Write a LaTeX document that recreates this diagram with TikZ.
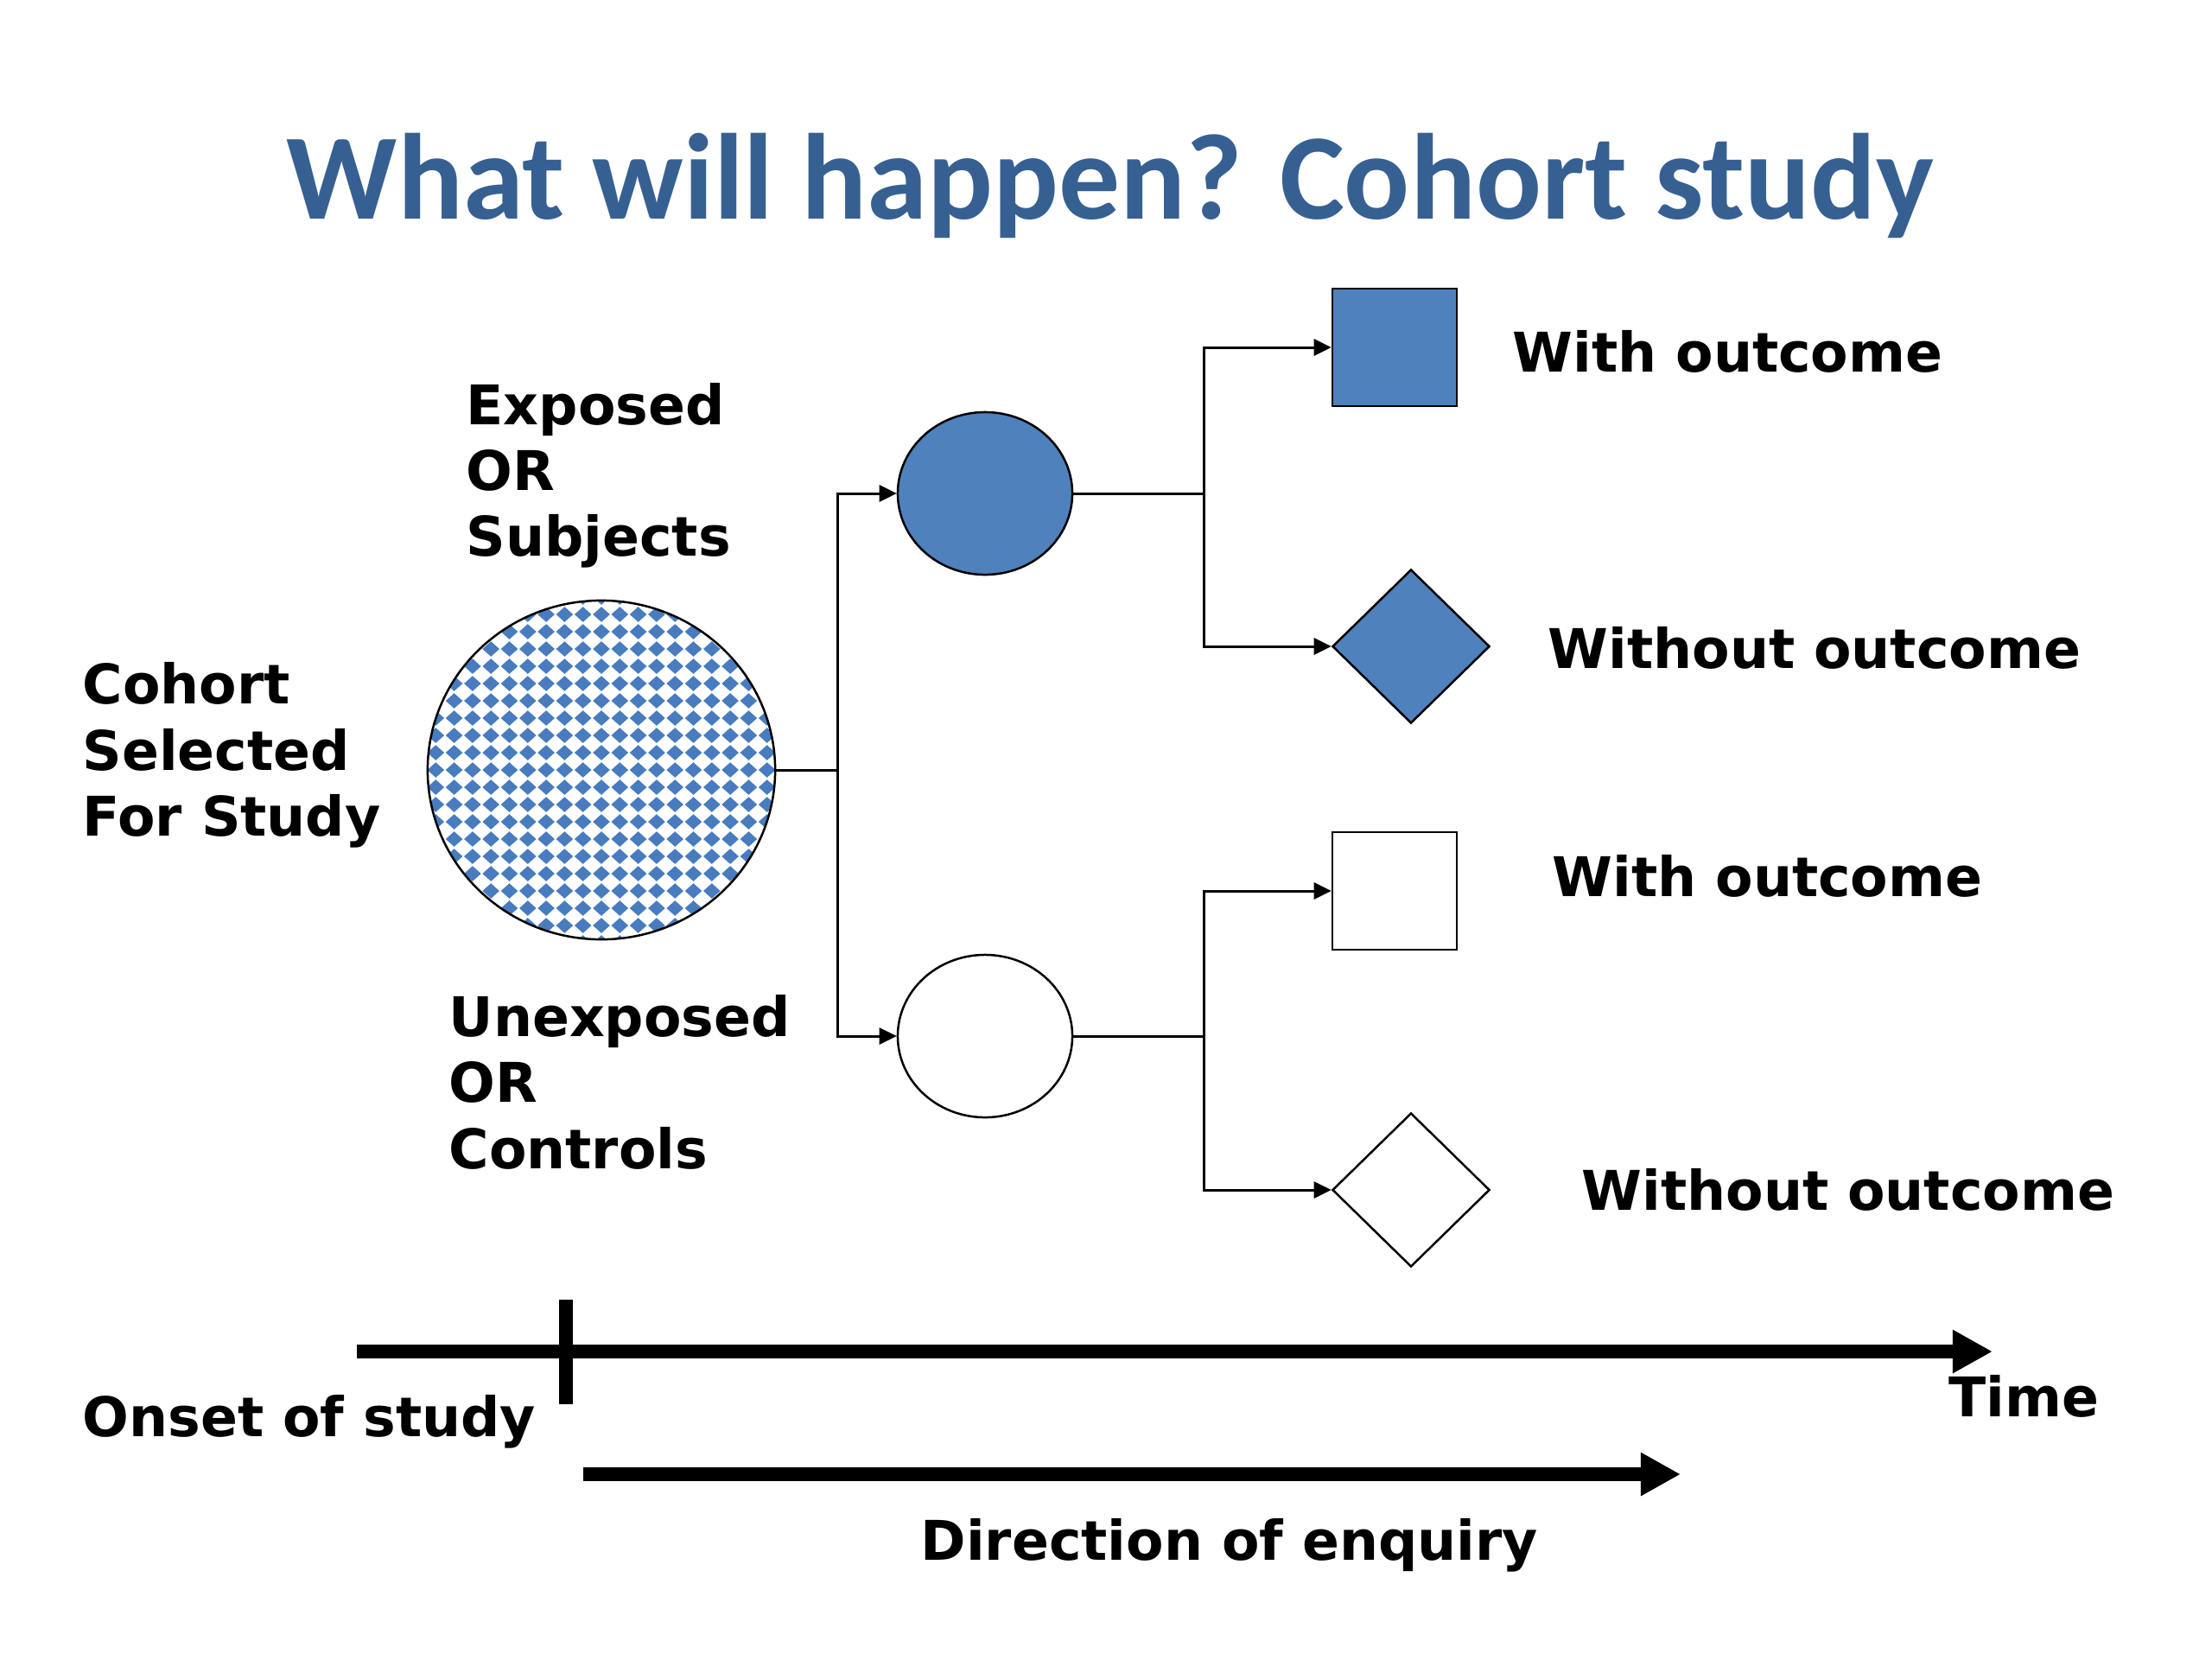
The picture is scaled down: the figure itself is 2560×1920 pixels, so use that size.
\documentclass[tikz,border=0pt]{standalone}
\usepackage{fontspec}
\usetikzlibrary{arrows.meta,shapes.geometric}
\newfontfamily\labfont{DejaVu Sans}
\newfontfamily\titlefont{Carlito}
\definecolor{titleblue}{RGB}{55,96,146}
\definecolor{shapeblue}{RGB}{79,129,189}
\definecolor{patblue}{RGB}{72,124,190}
\begin{document}
\begin{tikzpicture}[x=0.01cm,y=-0.01cm,
  lab/.style={font=\labfont\bfseries\fontsize{18}{22}\selectfont, anchor=base west, inner sep=0pt},
  conn/.style={line width=0.03cm, -{Triangle[length=0.2cm,width=0.19cm]}},
  plainline/.style={line width=0.03cm},
  bigarrow/.style={line width=0.16cm, -{Triangle[length=0.46cm,width=0.47cm]}},
  shp/.style={draw=black, line width=0.025cm, inner sep=0pt},
]
\useasboundingbox[fill=white] (0,0) rectangle (2560,1920);

% title
\node[font=\titlefont\bfseries\fontsize{40.25}{48}\selectfont, text=titleblue, anchor=base, inner sep=0pt] (title) at (1285,253) {What will happen? Cohort study};

% shapes
\node[shp, ellipse, fill=white, minimum width=4.02cm, minimum height=3.92cm,
  path picture={
    \foreach \i in {-10,...,10}{
      \foreach \j in {-10,...,10}{
        \fill[patblue] ([shift={(\i*21.3,\j*20)}]path picture bounding box.center)
          +(-9.8,0) -- +(0,-8.8) -- +(9.8,0) -- +(0,8.8) -- cycle;
      }
    }
  }] (cohort) at (696,891) {};
\node[shp, ellipse, fill=shapeblue, minimum width=2.02cm, minimum height=1.88cm] (exp) at (1140,571) {};
\node[shp, ellipse, fill=white, minimum width=2.02cm, minimum height=1.88cm] (unexp) at (1140,1199) {};
\node[shp, rectangle, fill=shapeblue, minimum width=1.44cm, minimum height=1.36cm] (sq1) at (1614,402) {};
\node[shp, diamond, fill=shapeblue, minimum width=1.82cm, minimum height=1.78cm] (dm1) at (1633,748) {};
\node[shp, rectangle, fill=white, minimum width=1.44cm, minimum height=1.36cm] (sq2) at (1614,1031) {};
\node[shp, diamond, fill=white, minimum width=1.82cm, minimum height=1.78cm] (dm2) at (1633,1377) {};

% connectors
\coordinate (j0) at (969,891);
\coordinate (j1) at (1393,571);
\coordinate (j2) at (1393,1199);
\draw[plainline] (cohort.east) -- (j0);
\draw[conn] (j0) |- (exp);
\draw[conn] (j0) |- (unexp);
\draw[plainline] (exp.east) -- (j1);
\draw[conn] (j1) |- (sq1);
\draw[conn] (j1) |- (dm1);
\draw[plainline] (unexp.east) -- (j2);
\draw[conn] (j2) |- (sq2);
\draw[conn] (j2) |- (dm2);

% labels
\node[lab] (exp-a) at (539,491) {Exposed};
\node[lab] (exp-b) at (539,567) {OR};
\node[lab] (exp-c) at (539,643) {Subjects};
\node[lab] (coh-a) at (95,814) {Cohort};
\node[lab] (coh-b) at (95,891) {Selected};
\node[lab] (coh-c) at (95,967) {For Study};
\node[lab] (une-a) at (519,1199) {Unexposed};
\node[lab] (une-b) at (519,1275) {OR};
\node[lab] (une-c) at (519,1352) {Controls};
\node[lab] (out1) at (1750,430) {With outcome};
\node[lab] (out2) at (1791,773) {Without outcome};
\node[lab] (out3) at (1796,1037) {With outcome};
\node[lab] (out4) at (1830,1400) {Without outcome};

% time axis
\coordinate (t0) at (413,1564);
\coordinate (t1) at (2306,1564);
\draw[bigarrow] (t0) -- (t1);
\coordinate (k0) at (655,1504);
\coordinate (k1) at (655,1625);
\draw[line width=0.16cm] (k0) -- (k1);
\coordinate (d0) at (675,1706);
\coordinate (d1) at (1945,1706);
\draw[bigarrow] (d0) -- (d1);

\node[lab] (onset) at (95,1662) {Onset of study};
\node[lab] (time) at (2255,1639) {Time};
\node[lab] (dir) at (1065,1805) {Direction of enquiry};
\end{tikzpicture}
\end{document}
